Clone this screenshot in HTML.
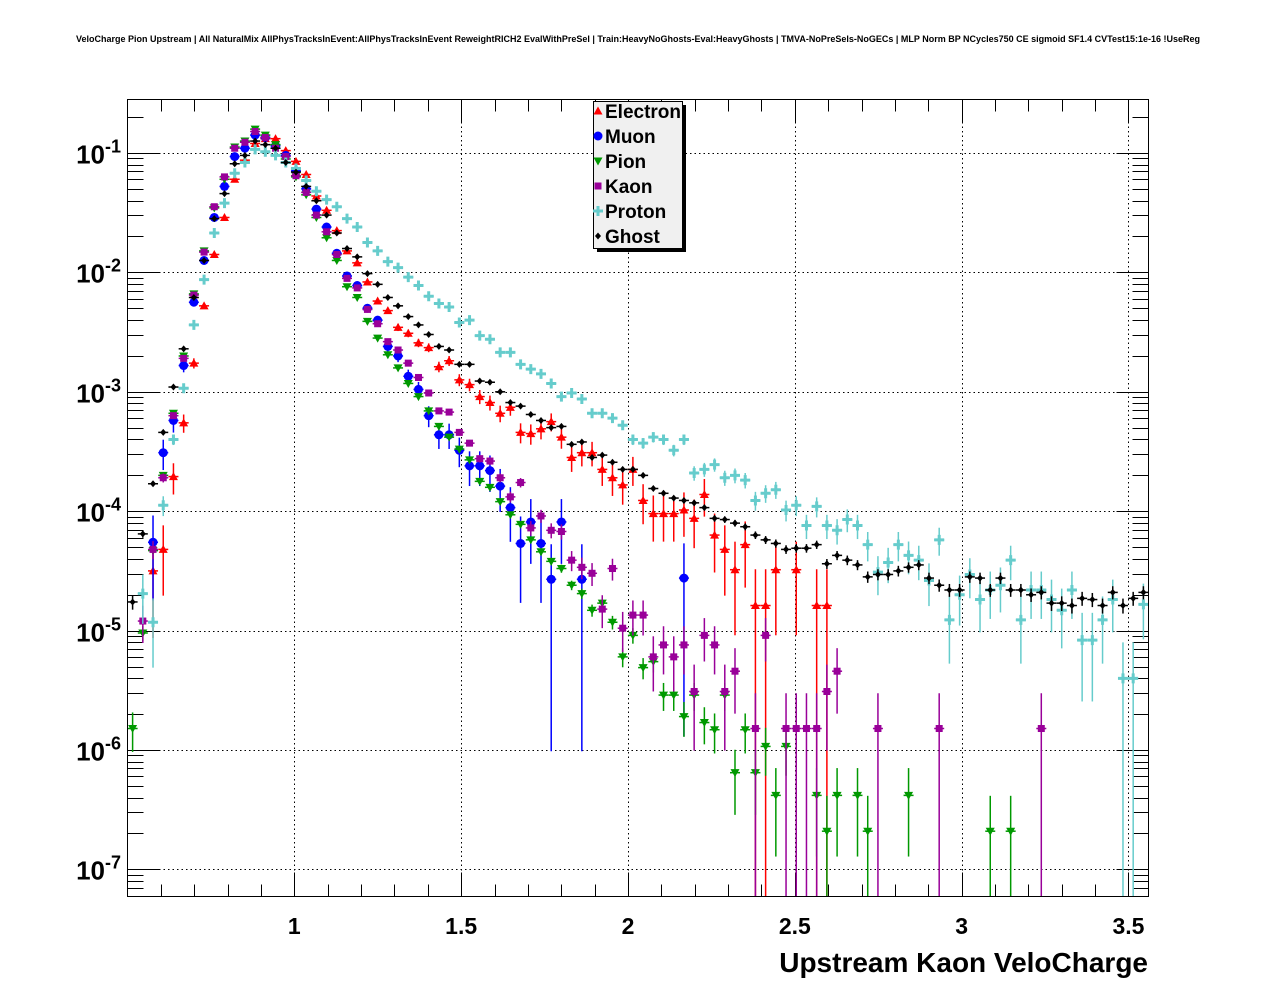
<!DOCTYPE html>
<html><head><meta charset="utf-8"><style>
html,body{margin:0;padding:0;background:#fff;}
svg{display:block;font-family:"Liberation Sans",Arial,sans-serif;}
</style></head><body>
<svg id="chart" width="1276" height="996" viewBox="0 0 1276 996" xmlns="http://www.w3.org/2000/svg">
<rect x="0" y="0" width="1276" height="996" fill="#fff"/>
<text x="638" y="42" font-size="9" font-weight="bold" text-anchor="middle">VeloCharge Pion Upstream | All NaturalMix AllPhysTracksInEvent:AllPhysTracksInEvent ReweightRICH2 EvalWithPreSel | Train:HeavyNoGhosts-Eval:HeavyGhosts | TMVA-NoPreSels-NoGECs | MLP Norm BP NCycles750 CE sigmoid SF1.4 CVTest15:1e-16 !UseReg</text>
<g id="grid"></g>
<g id="axes"></g>
<g id="series"></g>
<rect x="127.5" y="99.5" width="1021" height="797" fill="none" stroke="#000" stroke-width="1"/>
<text x="1148" y="972" font-size="28" font-weight="bold" text-anchor="end">Upstream Kaon VeloCharge</text>
<g id="legend"></g>
</svg>
<script>
const xMin = 0.5, xMax = 3.56, nBins = 100;
const xTicks = [1, 1.5, 2, 2.5, 3, 3.5];
const xTickLabels = ["1", "1.5", "2", "2.5", "3", "3.5"];
const yDecades = [-1, -2, -3, -4, -5, -6, -7];
const seriesNames = ["Electron", "Muon", "Pion", "Kaon", "Proton", "Ghost"];
// log10 of normalised entries per bin
const electron = [null,null,-4.50,-4.32,-3.71,-3.26,-2.76,-2.28,-1.85,-1.54,
-1.22,-1.06,-0.92,-0.88,-0.88,-0.98,-1.07,-1.18,-1.36,-1.48,
-1.65,-1.82,-1.92,-2.08,-2.24,-2.32,-2.46,-2.51,-2.59,-2.63,
-2.79,-2.74,-2.90,-2.94,-3.04,-3.09,-3.18,-3.13,-3.34,-3.35,
-3.31,-3.25,-3.38,-3.55,-3.51,-3.51,-3.65,-3.72,-3.78,-3.65,
-3.91,-4.02,-4.02,-4.02,-3.99,-4.06,-3.86,-4.20,-4.32,-4.49,
-4.28,-4.79,-4.79,-4.49,null,-4.49,null,-4.79,-4.79,null,
null,null,null,null,null,null,null,null,null,null,
null,null,null,null,null,null,null,null,null,null,
null,null,null,null,null,null,null,null,null,null];
const muon = [null,null,-4.26,-3.51,-3.24,-2.78,-2.25,-1.90,-1.54,-1.28,
-1.03,-0.96,-0.85,-0.87,-0.94,-1.02,-1.15,-1.30,-1.47,-1.62,
-1.84,-2.03,-2.11,-2.30,-2.40,-2.62,-2.70,-2.87,-2.98,-3.20,
-3.36,-3.36,-3.49,-3.62,-3.62,-3.66,-3.79,-3.97,-4.27,-4.09,
-4.27,-4.57,-4.09,null,-4.57,null,null,null,null,null,
null,null,null,null,-4.56,null,null,null,null,null,
null,null,null,null,null,null,null,null,null,null,
null,null,null,null,null,null,null,null,null,null,
null,null,null,null,null,null,null,null,null,null,
null,null,null,null,null,null,null,null,null,null];
const pion = [-5.82,-5.02,-4.33,-3.70,-3.18,-2.70,-2.18,-1.82,-1.46,-1.22,
-0.95,-0.90,-0.80,-0.85,-0.93,-1.05,-1.20,-1.35,-1.54,-1.71,
-1.90,-2.12,-2.21,-2.41,-2.55,-2.69,-2.80,-2.93,-3.04,-3.16,
-3.29,-3.38,-3.48,-3.57,-3.75,-3.80,-3.92,-4.03,-4.11,-4.24,
-4.34,-4.42,-4.48,-4.62,-4.69,-4.83,-4.77,-4.93,-5.22,-5.04,
-5.31,-5.26,-5.54,-5.54,-5.72,-5.54,-5.77,-5.83,-5.54,-6.19,
-5.83,-6.19,-5.97,-6.38,-5.97,null,null,-6.38,-6.68,-6.38,
null,-6.38,-6.68,null,null,null,-6.38,null,null,null,
null,null,null,null,-6.68,null,-6.68,null,null,null,
null,null,null,null,null,null,null,null,null,null];
const kaon = [null,-4.92,-4.32,-3.72,-3.20,-2.72,-2.19,-1.83,-1.45,-1.20,
-0.96,-0.91,-0.82,-0.87,-0.96,-1.03,-1.19,-1.33,-1.52,-1.66,
-1.85,-2.05,-2.13,-2.31,-2.43,-2.58,-2.65,-2.76,-2.88,-3.01,
-3.16,-3.17,-3.34,-3.43,-3.56,-3.58,-3.72,-3.88,-3.76,-4.14,
-4.04,-4.16,-4.17,-4.41,-4.47,-4.52,-4.82,-4.48,-4.98,-4.87,
-4.87,-5.22,-5.12,-5.22,-5.12,-5.51,-5.04,-5.12,-5.51,-5.34,
null,-5.82,-5.04,null,-5.82,-5.82,-5.82,-5.82,-5.51,-5.34,
null,null,null,-5.82,null,null,null,null,null,-5.82,
null,null,null,null,null,null,null,null,null,-5.82,
null,null,null,null,null,null,null,null,null,null];
const proton = [null,-4.69,-4.93,-3.95,-3.40,-2.97,-2.44,-2.06,-1.67,-1.42,
-1.17,-1.08,-0.97,-0.99,-1.02,-1.08,-1.13,-1.23,-1.32,-1.39,
-1.45,-1.55,-1.62,-1.75,-1.82,-1.91,-1.96,-2.04,-2.11,-2.20,
-2.26,-2.29,-2.42,-2.40,-2.53,-2.56,-2.67,-2.67,-2.77,-2.81,
-2.85,-2.93,-3.04,-3.01,-3.06,-3.18,-3.18,-3.22,-3.28,-3.40,
-3.43,-3.38,-3.40,-3.49,-3.40,-3.68,-3.65,-3.61,-3.72,-3.70,
-3.74,-3.91,-3.85,-3.82,-3.99,-3.95,-4.12,-3.96,-4.12,-4.16,
-4.07,-4.12,-4.28,-4.51,-4.43,-4.28,-4.37,-4.41,-4.58,-4.24,
-4.91,-4.70,-4.53,-4.74,-4.66,-4.62,-4.41,-4.91,-4.66,-4.66,
-4.74,-4.83,-4.66,-5.08,-5.08,-4.91,-4.74,-5.40,-5.40,-4.78];
const ghost = [-4.76,-4.19,-3.77,-3.34,-2.96,-2.64,-2.21,-1.90,-1.55,-1.34,
-1.09,-1.02,-0.90,-0.93,-0.96,-1.08,-1.16,-1.28,-1.40,-1.52,
-1.67,-1.80,-1.87,-2.01,-2.10,-2.21,-2.28,-2.37,-2.44,-2.52,
-2.62,-2.65,-2.77,-2.77,-2.91,-2.92,-3.00,-3.09,-3.12,-3.19,
-3.24,-3.30,-3.29,-3.44,-3.42,-3.55,-3.53,-3.59,-3.65,-3.65,
-3.70,-3.81,-3.85,-3.89,-3.91,-3.93,-3.97,-4.06,-4.07,-4.10,
-4.13,-4.20,-4.24,-4.27,-4.32,-4.31,-4.31,-4.28,-4.44,-4.37,
-4.41,-4.45,-4.55,-4.53,-4.53,-4.50,-4.47,-4.45,-4.56,-4.62,
-4.66,-4.66,-4.55,-4.56,-4.66,-4.56,-4.66,-4.66,-4.70,-4.68,
-4.77,-4.77,-4.79,-4.73,-4.74,-4.79,-4.68,-4.79,-4.73,-4.68];
const effEntries = [6e4, 4e4, 5e6, 7e5, 2.5e5, 3e6];

const NS = "http://www.w3.org/2000/svg";
const PL = 127.5, PR = 1148.5, PT = 99.5, PB = 896.5;
function xPix(v){ return PL + (v - xMin) / (xMax - xMin) * (PR - PL); }
function yPix(lg){ return 153 - (lg + 1) * 119.4; }
function mk(tag, attrs, parent){ const e = document.createElementNS(NS, tag); for (const k in attrs) e.setAttribute(k, attrs[k]); parent.appendChild(e); return e; }

const grid = document.getElementById('grid');
const axes = document.getElementById('axes');
for (let t = 0.6; t < xMax; t += 0.1) {
  const v = Math.round(t*10)/10, x = Math.round(xPix(v)) + 0.5;
  const major = Math.abs(v*2 - Math.round(v*2)) < 1e-6;
  const len = major ? 24 : 12;
  mk('line', {x1:x, x2:x, y1:PB, y2:PB-len, stroke:'#000'}, axes);
  mk('line', {x1:x, x2:x, y1:PT, y2:PT+len, stroke:'#000'}, axes);
}
xTicks.forEach((v, i) => {
  const x = Math.round(xPix(v)) + 0.5;
  const g = mk('line', {x1:x, x2:x, y1:PT, y2:PB, stroke:'#000', 'stroke-dasharray':'1.5,3'}, grid);
  
  
  const t = mk('text', {x:xPix(v), y:934, 'font-size':23, 'font-weight':'bold', 'text-anchor':'middle'}, axes);
  t.textContent = xTickLabels[i];
  
  
});
for (let d = -8; d <= 0; d++) {
  for (let m = 1; m <= 9; m++) {
    const lg = d + Math.log10(m), y = Math.round(yPix(lg)) + 0.5;
    if (y < PT || y > PB) continue;
    const len = m === 1 ? 32 : 16;
    mk('line', {x1:PL, x2:PL+len, y1:y, y2:y, stroke:'#000'}, axes);
    mk('line', {x1:PR, x2:PR-len, y1:y, y2:y, stroke:'#000'}, axes);
  }
}
yDecades.forEach(d => {
  const y = Math.round(yPix(d)) + 0.5;
  const g = mk('line', {x1:PL, x2:PR, y1:y, y2:y, stroke:'#000', 'stroke-dasharray':'1.5,3'}, grid);
  
  
  const t = mk('text', {x:121, y:y+10, 'font-size':26, 'font-weight':'bold', 'text-anchor':'end'}, axes);
  
  
  t.textContent = '10';
  const s = mk('tspan', {dy:-11, 'font-size':18}, t);
  s.textContent = String(d);
});

const colors = ['#ff0000', '#0000ff', '#009900', '#990099', '#66cccc', '#000000'];
function marker(type, cx, cy, col, parent){
  let e;
  if (type === 0) e = mk('polygon', {points:`${cx-4.5},${cy+3.5} ${cx+4.5},${cy+3.5} ${cx},${cy-4.5}`, fill:col}, parent);
  else if (type === 1) e = mk('circle', {cx:cx, cy:cy, r:4.5, fill:col}, parent);
  else if (type === 2) e = mk('polygon', {points:`${cx-4.5},${cy-3.5} ${cx+4.5},${cy-3.5} ${cx},${cy+4.5}`, fill:col}, parent);
  else if (type === 3) e = mk('rect', {x:cx-3.5, y:cy-3.5, width:7, height:7, fill:col}, parent);
  else if (type === 4) e = mk('path', {d:`M${cx-5},${cy-1.5}h3.5v-3.5h3v3.5h3.5v3h-3.5v3.5h-3v-3.5h-3.5z`, fill:col}, parent);
  else e = mk('polygon', {points:`${cx},${cy-3.5} ${cx+3},${cy} ${cx},${cy+3.5} ${cx-3},${cy}`, fill:col}, parent);
  return e;
}
const allSeries = [electron, muon, pion, kaon, proton, ghost];
const seriesG = document.getElementById('series');
const bw = (xMax - xMin) / nBins;
allSeries.forEach((arr, si) => {
  const g = mk('g', {}, seriesG);
  
  
  const col = colors[si];
  arr.forEach((lg, j) => {
    if (lg === null) return;
    const xc = xPix(xMin + bw*(j+0.5)), yc = yPix(lg);
    const v = Math.pow(10, lg), r = 1/Math.sqrt(v*effEntries[si]);
    const yUp = yPix(Math.log10(v*(1+r)));
    const yLo = r >= 1 ? PB : Math.min(PB, yPix(Math.log10(v*(1-r))));
    mk('line', {x1:xc, x2:xc, y1:Math.max(PT, yUp), y2:yLo, stroke:col, 'stroke-width':1.5}, g);
    mk('line', {x1:xc-5, x2:xc+5, y1:yc, y2:yc, stroke:col, 'stroke-width':1.5}, g);
    const m = marker(si, xc, yc, col, g);
    
    
  });
});

const lg = document.getElementById('legend');
mk('rect', {x:597, y:105, width:89, height:147, fill:'#000'}, lg);
mk('rect', {x:593.5, y:101.5, width:89, height:147, fill:'#f0f0f0', stroke:'#000'}, lg);
seriesNames.forEach((n, i) => {
  const y = 111 + i*25;
  const e = mk('g', {}, lg);
  
  
  marker(i, 598, y, colors[i], e);
  const t = mk('text', {x:605, y:y+7, 'font-size':19, 'font-weight':'bold'}, e);
  t.textContent = n;
});
</script>
</body></html>
